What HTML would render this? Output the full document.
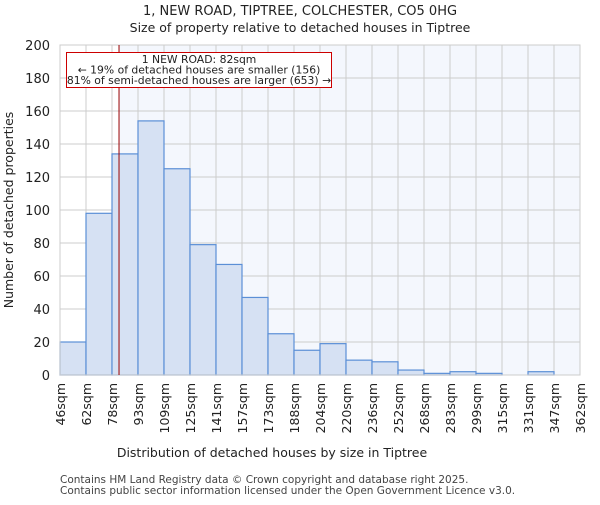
<!DOCTYPE html>
<html><head><meta charset="utf-8"><style>body{margin:0;background:#fff}svg{font-family:"DejaVu Sans","Liberation Sans",sans-serif}</style></head>
<body>
<svg id="c" width="600" height="500">
<text x="300" y="15" text-anchor="middle" font-size="13" fill="#222">1, NEW ROAD, TIPTREE, COLCHESTER, CO5 0HG</text>
<text x="300" y="32" text-anchor="middle" font-size="12.5" fill="#222">Size of property relative to detached houses in Tiptree</text>
<g id="plot"></g>
<text x="272" y="457" text-anchor="middle" font-size="12.5" fill="#222">Distribution of detached houses by size in Tiptree</text>
<text transform="translate(13,210) rotate(-90)" text-anchor="middle" font-size="12.5" fill="#222">Number of detached properties</text>
<text x="60" y="483" font-size="10.5" fill="#444">Contains HM Land Registry data © Crown copyright and database right 2025.</text>
<text x="60" y="494" font-size="10.5" fill="#444">Contains public sector information licensed under the Open Government Licence v3.0.</text>
</svg>
<script>
const binLabels=["46sqm","62sqm","78sqm","93sqm","109sqm","125sqm","141sqm","157sqm","173sqm","188sqm","204sqm","220sqm","236sqm","252sqm","268sqm","283sqm","299sqm","315sqm","331sqm","347sqm","362sqm"];
const counts=[20,98,134,154,125,79,67,47,25,15,19,9,8,3,1,2,1,0,2,0];
const yTicks=[0,20,40,60,80,100,120,140,160,180,200];
const markerBin=2.27;
const NS="http://www.w3.org/2000/svg";
const L=60,R=580,T=45,B=375,yMax=200;
const bw=(R-L)/counts.length;
const x=i=>L+i*bw, y=v=>B-(v/yMax)*(B-T);
const g=document.getElementById('plot');
function mk(t,a){const e=document.createElementNS(NS,t);for(const k in a)e.setAttribute(k,a[k]);g.appendChild(e);return e;}
const mx=x(markerBin);
let e=mk('rect',{x:mx,y:T,width:R-mx,height:B-T,fill:'#f4f7fd'});


yTicks.forEach(v=>{let l=mk('line',{x1:L,x2:R,y1:y(v),y2:y(v),stroke:'#cccccc'});


let t=mk('text',{x:L-10,y:y(v)+5,'text-anchor':'end','font-size':'13',fill:'#222'});t.textContent=v;

});
binLabels.forEach((s,i)=>{let l=mk('line',{x1:x(i),x2:x(i),y1:T,y2:B,stroke:'#cccccc'});


let t=mk('text',{transform:`translate(${x(i)+5},${B+8}) rotate(-90)`,'text-anchor':'end','font-size':'12.5',fill:'#222'});t.textContent=s;

});
counts.forEach((v,i)=>{if(v<=0)return;let r=mk('rect',{x:x(i),y:y(v),width:bw,height:B-y(v),fill:'#d6e1f3',stroke:'#5b8fd6','stroke-width':1.2});

});
e=mk('rect',{x:L,y:T,width:R-L,height:B-T,fill:'none',stroke:'#cccccc'});


e=mk('line',{x1:mx,x2:mx,y1:T,y2:B,stroke:'#990000','stroke-width':1});


e=mk('rect',{x:66.5,y:52.5,width:265,height:35,fill:'#fff',stroke:'#cc0000','stroke-width':1});


["1 NEW ROAD: 82sqm","← 19% of detached houses are smaller (156)","81% of semi-detached houses are larger (653) →"].forEach((s,i)=>{let t=mk('text',{x:199,y:63+i*10.5,'text-anchor':'middle','font-size':'10.8',fill:'#222'});t.textContent=s;

});
</script>
</body></html>
